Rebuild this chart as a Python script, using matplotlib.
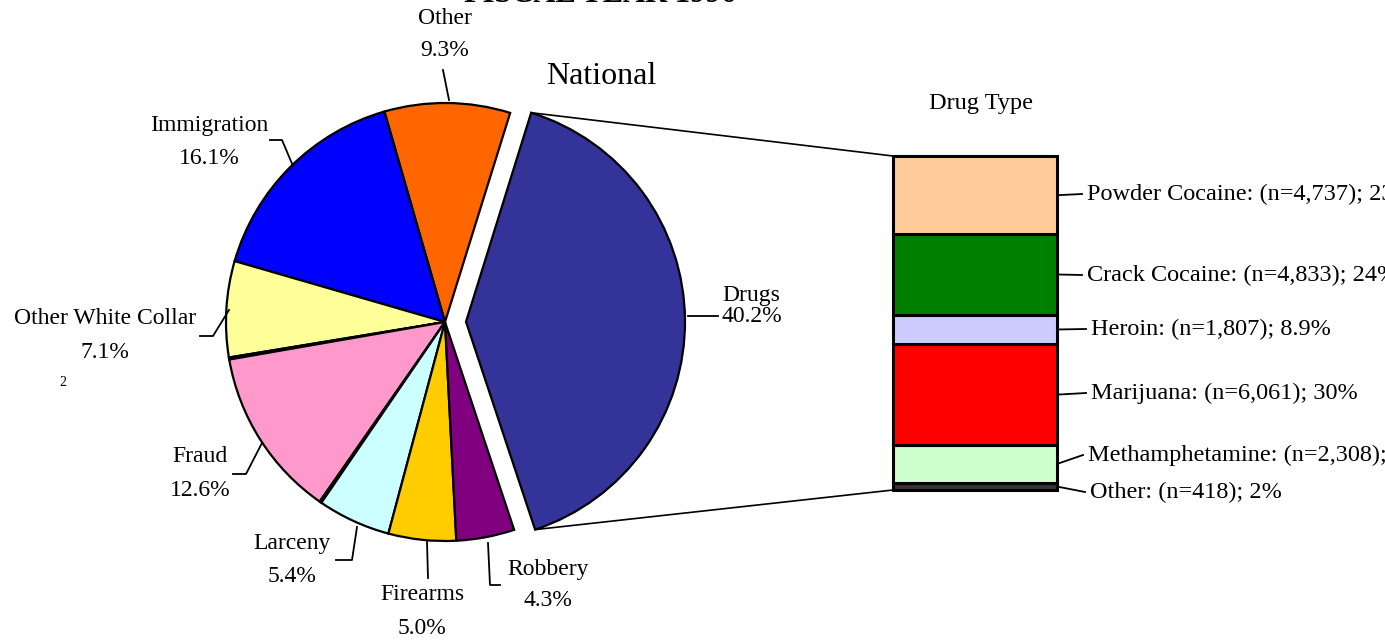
import matplotlib
matplotlib.use("Agg")
import matplotlib.pyplot as plt
import numpy as np

plt.rcParams['font.family'] = ['Liberation Serif', 'DejaVu Serif']

# offense categories (pie), counter-clockwise starting with Drugs
offenses = ["Drugs", "Other", "Immigration", "Other White Collar", "",
            "Fraud", "", "Larceny", "Firearms", "Robbery"]
offense_pct = [40.2, 9.3, 16.1, 7.1, 0.15, 12.6, 0.15, 5.4, 5.0, 4.3]
offense_colors = ["#333399", "#FF6600", "#0000FF", "#FFFF99", "#C0C0C0",
                  "#FF99CC", "#C0C0C0", "#CCFFFF", "#FFCC00", "#800080"]

# drug types (stacked bar), top to bottom
drug_types = ["Powder Cocaine", "Crack Cocaine", "Heroin", "Marijuana",
              "Methamphetamine", "Other"]
drug_n = [4737, 4833, 1807, 6061, 2308, 418]
drug_pct_text = ["23.5%", "24%", "8.9%", "30%", "11.4%", "2%"]
drug_colors = ["#FFCC99", "#008000", "#CCCCFF", "#FF0000", "#CCFFCC", "#333333"]

W, H = 1385, 641
fig = plt.figure(figsize=(W / 100, H / 100), dpi=100)
ax = fig.add_axes([0, 0, 1, 1])


def P(x, y):
    # pixel (from top-left) -> data coords of the full-figure axes
    return x, H - y


cx, cy = P(445, 322)
R = 219
explode = [21] + [0] * (len(offense_pct) - 1)
wedges, _ = ax.pie(offense_pct, colors=offense_colors, startangle=-71.6,
                   counterclock=True, center=(cx, cy), radius=R,
                   explode=explode,
                   wedgeprops=dict(edgecolor="black", linewidth=1.6))
ax.set_xlim(0, W)
ax.set_ylim(0, H)
ax.set_aspect("auto")
ax.axis("off")

# stacked bar for drug types
bx0, by_top, bw, bh = 893, 156, 164, 334
ax2 = fig.add_axes([bx0 / W, (H - by_top - bh) / H, bw / W, bh / H])
bottom = 0
mids = []
for name, n, c in zip(drug_types[::-1], drug_n[::-1], drug_colors[::-1]):
    ax2.bar(0, n, bottom=bottom, width=1, color=c, edgecolor="black",
            linewidth=2.2, clip_on=False)
    mids.append(bottom + n / 2)
    bottom += n
mids = mids[::-1]
ax2.set_xlim(-0.5, 0.5)
ax2.set_ylim(0, bottom)
ax2.axis("off")

# connector lines from the exploded Drugs wedge to the bar
w0 = wedges[0]
wc = w0.center
top_pt = (wc[0] + R * np.cos(np.radians(w0.theta2)), wc[1] + R * np.sin(np.radians(w0.theta2)))
bot_pt = (wc[0] + R * np.cos(np.radians(w0.theta1)), wc[1] + R * np.sin(np.radians(w0.theta1)))
inv = ax.transData.inverted()
bar_tl = inv.transform(ax2.transData.transform((-0.5, bottom)))
bar_bl = inv.transform(ax2.transData.transform((-0.5, 0)))
ax.plot([top_pt[0], bar_tl[0]], [top_pt[1], bar_tl[1]], color="black", lw=1.2)
ax.plot([bot_pt[0], bar_bl[0]], [bot_pt[1], bar_bl[1]], color="black", lw=1.2)

# bar labels (run off the right edge, as in the original)
label_pos = [(1087, 194), (1087, 275), (1091, 329), (1091, 393), (1088, 455), (1090, 492)]
for name, n, pct, m, (lx, ly) in zip(drug_types, drug_n, drug_pct_text, mids, label_pos):
    bx, by = inv.transform(ax2.transData.transform((0.5, m)))
    tx, ty = P(lx, ly)
    ax.plot([bx, tx - 5], [by, ty], color="black", lw=1.3)
    ax.text(tx, ty, f"{name}: (n={n:,}); {pct}", fontsize=17.5, ha="left",
            va="center")

# pie labels and leader lines
fs = 17
pie_labels = [
    ("Other", "9.3%", 445, 18, 50, [(443, 70), (449, 100)]),
    ("Immigration", "16.1%", 209, 125, 159, [(270, 140), (282, 140), (293, 166)]),
    ("Other White Collar", "7.1%", 105, 319, 352, [(200, 336), (213, 336), (229, 310)]),
    ("Fraud", "12.6%", 200, 457, 491, [(233, 474), (246, 474), (262, 443)]),
    ("Larceny", "5.4%", 292, 543, 577, [(336, 560), (352, 560), (357, 527)]),
    ("Firearms", "5.0%", 422, 595, 628, [(427, 542), (428, 578)]),
    ("Robbery", "4.3%", 548, 569, 601, [(488, 543), (490, 585), (500, 585)]),
]
for name, pct, x, y1, y2, line in pie_labels:
    ax.text(*P(x, y1), name, fontsize=fs, ha="center", va="center")
    ax.text(*P(x, y2), pct, fontsize=fs, ha="center", va="center")
    xs, ys = zip(*[P(a, b) for a, b in line])
    ax.plot(xs, ys, color="black", lw=1.3)

# Drugs label sits tight beside the wedge
ax.text(*P(751, 295), "Drugs", fontsize=fs, ha="center", va="center")
ax.text(*P(721, 316), "40.2%", fontsize=fs, ha="left", va="center")
ax.plot(*zip(P(688, 316), P(718, 316)), color="black", lw=1.3)

ax.text(*P(63, 383), "2", fontsize=10, ha="center", va="center")

# titles
ax.text(*P(600, 2), "FISCAL YEAR 1996", fontsize=22, fontweight="bold",
        ha="center", va="baseline")
ax.text(*P(601, 77), "National", fontsize=23, ha="center", va="center")
ax.text(*P(981, 103), "Drug Type", fontsize=17.5, ha="center", va="center")

fig.savefig("out.png", dpi=100)
